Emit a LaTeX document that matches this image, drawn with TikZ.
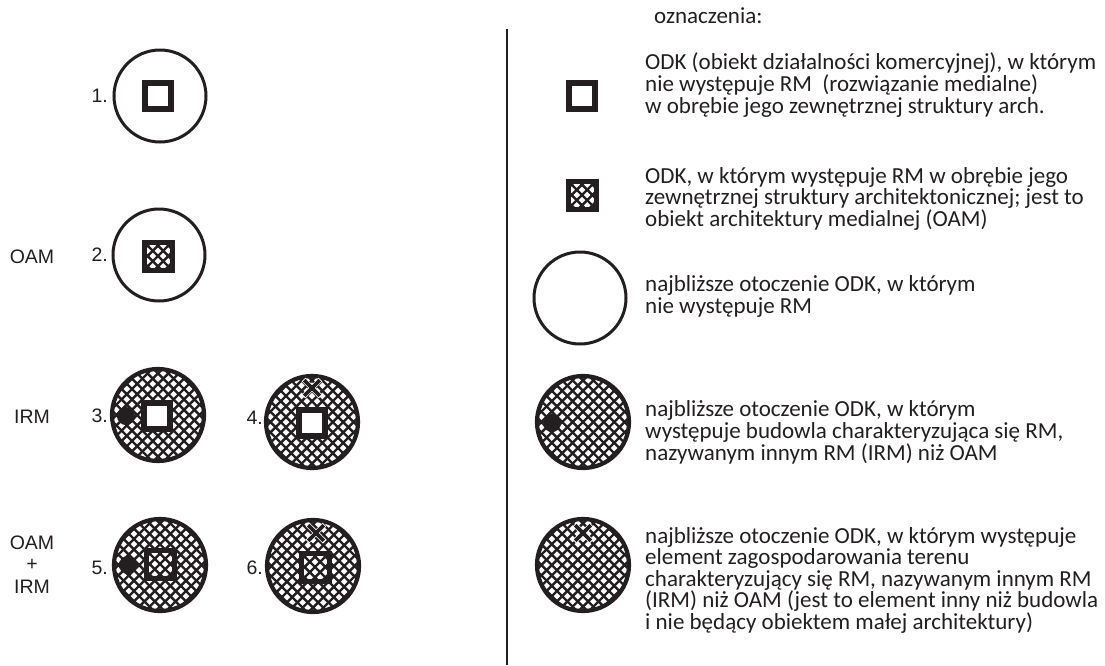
\documentclass[tikz,border=0pt]{standalone}
\usepackage{fontspec}
\setmainfont{Carlito}
\newfontfamily\arialf{Liberation Sans}
\usetikzlibrary{shapes.misc}
\definecolor{ink}{RGB}{35,31,32}
\tikzset{
  hatchfill/.style={path picture={
    \begin{scope}[shift={(path picture bounding box.center)}]
      \foreach \k in {-12,...,12}{
        \draw[ink, line width=2.4pt] (\k*10.4pt-70pt,-70pt) -- ++(140pt,140pt);
        \draw[ink, line width=2.4pt] (\k*10.4pt+70pt,-70pt) -- ++(-140pt,140pt);
      }
    \end{scope}}},
  ring/.style={circle, draw=ink, line width=3pt, minimum size=92pt, inner sep=0pt, fill=white},
  hring/.style={circle, draw=ink, line width=4.2pt, minimum size=92pt, inner sep=0pt, fill=white, hatchfill},
  wsq/.style={rectangle, draw=ink, fill=white, line width=6pt, minimum size=26pt, inner sep=0pt},
  hsq/.style={rectangle, draw=ink, fill=white, line width=5pt, minimum size=28pt, inner sep=0pt, hatchfill},
  blackdot/.style={circle, fill=ink, minimum size=18pt, inner sep=0pt},
  xhalo/.style={cross out, draw=white, line width=5pt, minimum size=12pt, inner sep=0pt},
  xmark/.style={cross out, draw=ink, line width=3.6pt, minimum size=12pt, inner sep=0pt},
  lbl/.style={font=\arialf\fontsize{19.5}{20}\selectfont, text=ink, inner sep=0pt},
  legtext/.style={font=\fontsize{23}{22}\selectfont, text=ink, inner sep=0pt, anchor=base west},
}
\begin{document}
\begin{tikzpicture}[x=1pt,y=-1pt]
\useasboundingbox (0,0) rectangle (1105,665);
\fill[white] (0,0) rectangle (1105,665);

% left column: numbered cases
\node[ring] (c1) at (160,96) {};
\node[wsq] (s1) at (158,96) {};
\node[lbl, anchor=east] (n1) at (108,96) {1.};

\node[ring] (c2) at (159,255) {};
\node[hsq] (s2) at (158,256) {};
\node[lbl, anchor=east] (n2) at (108,255) {2.};
\node[lbl] (oam2) at (32,257) {OAM};

\node[hring] (c3) at (158,415) {};
\node[wsq] (s3) at (157,416) {};
\node[blackdot] (d3) at (126,416) {};
\node[lbl, anchor=east] (n3) at (108,416) {3.};
\node[lbl] (irm3) at (32,417) {IRM};

\node[hring] (c4) at (312,422) {};
\node[wsq] (s4) at (312,423) {};
\node[xhalo] (xh4) at (312,388) {};
\node[xmark] (x4) at (312,388) {};
\node[lbl, anchor=east] (n4) at (263,418) {4.};

\node[hring] (c5) at (160,565) {};
\node[hsq] (s5) at (160,564) {};
\node[blackdot] (d5) at (128,565) {};
\node[lbl, anchor=east] (n5) at (108,568) {5.};
\node[lbl] (oam5) at (32,543) {OAM};
\node[lbl] (plus5) at (32,565) {+};
\node[lbl] (irm5) at (32,587) {IRM};

\node[hring] (c6) at (313,566) {};
\node[hsq] (s6) at (315,567) {};
\node[xhalo] (xh6) at (316,533) {};
\node[xmark] (x6) at (316,533) {};
\node[lbl, anchor=east] (n6) at (263,568) {6.};

% divider
\coordinate (vtop) at (507,29);
\coordinate (vbot) at (507,665);
\draw[ink, line width=2.6pt] (vtop) -- (vbot);

% legend symbols
\node[wsq, line width=5.5pt, minimum size=26pt] (ls1) at (582,96) {};
\node[hsq] (ls2) at (582,195) {};
\node[ring] (lc1) at (580,298) {};
\node[hring] (lc2) at (583,422) {};
\node[blackdot] (ld2) at (552,423) {};
\node[hring] (lc3) at (583,565) {};
\node[xhalo] (lxh3) at (583,533) {};
\node[xmark] (lx3) at (583,533) {};

% legend texts
\node[legtext] (head) at (654,23) {oznaczenia:};
\foreach \t [count=\i] in {{ODK (obiekt działalności komercyjnej), w którym},
  {nie występuje RM\ \ (rozwiązanie medialne)},
  {w obrębie jego zewnętrznej struktury arch.}}
  \node[legtext] (ta\i) at (645,69+22*\i-22) {\t};
\foreach \t [count=\i] in {{ODK, w którym występuje RM w obrębie jego},
  {zewnętrznej struktury architektonicznej; jest to},
  {obiekt architektury medialnej (OAM)}}
  \node[legtext] (tb\i) at (645,183+21.5*\i-21.5) {\t};
\foreach \t [count=\i] in {{najbliższe otoczenie ODK, w którym},
  {nie występuje RM}}
  \node[legtext] (tc\i) at (645,291+22*\i-22) {\t};
\foreach \t [count=\i] in {{najbliższe otoczenie ODK, w którym},
  {występuje budowla charakteryzująca się RM,},
  {nazywanym innym RM (IRM) niż OAM}}
  \node[legtext] (td\i) at (645,416+22*\i-22) {\t};
\foreach \t [count=\i] in {{najbliższe otoczenie ODK, w którym występuje},
  {element zagospodarowania terenu},
  {charakteryzujący się RM, nazywanym innym RM},
  {(IRM) niż OAM (jest to element inny niż budowla},
  {i nie będący obiektem małej architektury)}}
  \node[legtext] (te\i) at (645,543+21.5*\i-21.5) {\t};
\end{tikzpicture}
\end{document}
